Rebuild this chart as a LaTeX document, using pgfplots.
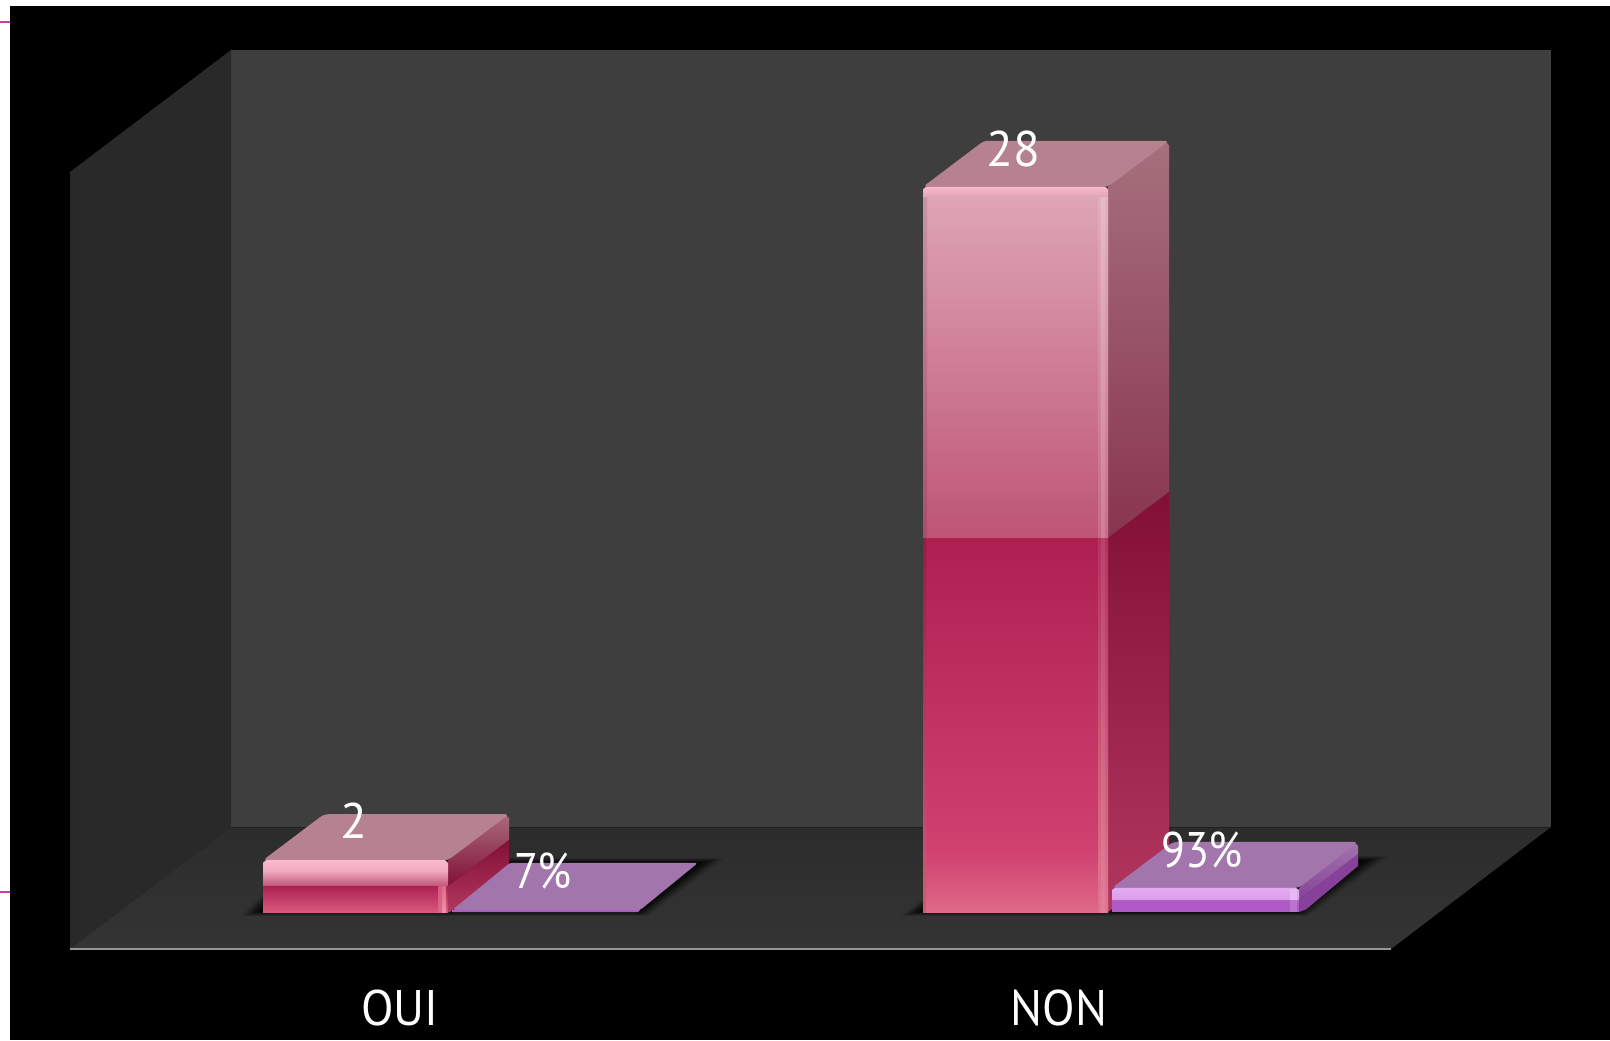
\documentclass[border=0pt]{standalone}
\usepackage{fontspec}
\setmainfont{PT Sans}
\usepackage{pgfplots}
\pgfplotsset{compat=1.18}
\definecolor{backwall}{RGB}{62,62,62}
\definecolor{leftwall}{RGB}{41,41,41}
\definecolor{floorA}{RGB}{44,44,44}
\definecolor{floorB}{RGB}{52,52,52}
\definecolor{axisgray}{RGB}{150,150,150}
\definecolor{tickmag}{RGB}{200,60,170}
\definecolor{rosetop}{RGB}{182,130,143}
\definecolor{paleA}{RGB}{222,165,180}
\definecolor{paleB}{RGB}{190,85,118}
\definecolor{paleHi}{RGB}{250,185,205}
\definecolor{deepA}{RGB}{174,32,82}
\definecolor{deepB}{RGB}{208,65,112}
\definecolor{deepC}{RGB}{222,105,135}
\definecolor{sideA}{RGB}{166,112,125}
\definecolor{sideB}{RGB}{137,53,80}
\definecolor{sideC}{RGB}{130,15,55}
\definecolor{sideD}{RGB}{178,55,95}
\definecolor{lilactop}{RGB}{162,117,172}
\definecolor{lilacHi}{RGB}{228,170,242}
\definecolor{lilacFront}{RGB}{175,90,198}
\definecolor{lilacSide}{RGB}{135,65,155}
\newcommand\face[2]{\addplot[draw=none,#1] coordinates {#2} --cycle;}
\begin{document}
\begin{tikzpicture}
\begin{axis}[
  width=805pt,height=520pt,scale only axis,
  xmin=0,xmax=1610,ymin=-4.942,ymax=35.212,
  enlargelimits=false,clip=true,axis on top,
  axis line style={draw=none},
  tick style={draw=none},major tick length=0pt,
  ytick=\empty,
  xtick={400,1059},xticklabels={OUI,NON},
  xticklabel style={anchor=base,yshift=7.5pt,text=white,font=\fontsize{25}{25}\selectfont,xscale=.95},
]
% page ground
\face{fill=white}{(0,-4.942)(1610,-4.942)(1610,35.212)(0,35.212)}
\face{fill=black}{(10,-4.942)(1610,-4.942)(1610,34.981)(10,34.981)}
\addplot[tickmag,line width=1.2pt] coordinates {(0,34.363)(10,34.363)};
\addplot[tickmag,line width=1.2pt] coordinates {(0,0.772)(10,0.772)};
% walls and floor
\face{fill=backwall}{(231,3.282)(1551,3.282)(1551,33.282)(231,33.282)}
\face{fill=leftwall}{(70,-1.429)(231,3.282)(231,33.282)(70,28.571)}
\face{top color=floorA,bottom color=floorB}{(70,-1.429)(1391,-1.429)(1551,3.282)(231,3.282)}
\addplot[axisgray,line width=1pt] coordinates {(70,-1.429)(1391,-1.429)};
\addplot[black,opacity=.25,line width=.4pt] coordinates {(231,3.282)(1551,3.282)};
% soft shadows, OUI
\face{fill=black,fill opacity=.12}{(241,-0.154)(648,-0.154)(724,2.085)(300,2.085)}
\face{fill=black,fill opacity=.18}{(245,-0.116)(646,-0.116)(719,2.046)(300,2.046)}
\face{fill=black,fill opacity=.25}{(249,-0.077)(644,-0.077)(714,2.008)(300,2.008)}
\face{fill=black,fill opacity=.35}{(253,-0.039)(642,-0.039)(709,1.969)(300,1.969)}
\face{fill=black,fill opacity=.45}{(258,-0.01)(640,-0.01)(704,1.931)(300,1.931)}
% soft shadows, NON
\face{fill=black,fill opacity=.12}{(901,-0.154)(1308,-0.154)(1388,2.162)(980,2.162)}
\face{fill=black,fill opacity=.18}{(905,-0.116)(1306,-0.116)(1383,2.124)(980,2.124)}
\face{fill=black,fill opacity=.25}{(909,-0.077)(1304,-0.077)(1378,2.085)(980,2.085)}
\face{fill=black,fill opacity=.35}{(913,-0.039)(1302,-0.039)(1373,2.046)(980,2.046)}
\face{fill=black,fill opacity=.45}{(918,-0.01)(1300,-0.01)(1367,2.008)(980,2.008)}
% OUI, count = 2
\face{top color=rosetop!70!sideB,bottom color=sideC}{(448,2)(505,3.776)(509,3.62)(509,2.78)(448,1.004)}
\face{top color=sideC,bottom color=sideD}{(448,1.004)(509,2.78)(509,1.776)(450,0)(448,0)}
\face{fill=rosetop,rounded corners=2pt}{(263,2)(448,2)(509,3.776)(324,3.776)}
\face{top color=paleHi,bottom color=paleHi!85!paleB}{(263,1.6)(448,1.6)(448,1.9)(445,2)(266,2)(263,1.9)}
\face{top color=paleHi!85!paleB,bottom color=paleB}{(263,1.004)(448,1.004)(448,1.6)(263,1.6)}
\face{top color=deepA,bottom color=deepC!60!deepB}{(263,0)(448,0)(448,1.004)(263,1.004)}
\face{top color=deepC!60!deepB,bottom color=deepC}{(438,0)(442,0)(442,1.004)(438,1.004)}
\face{top color=deepC,bottom color=deepC!70!white}{(442,0)(446,0)(446,1.004)(442,1.004)}
% OUI, share = 0.07
\face{fill=lilacFront}{(452,0)(638,0)(640,0.07)(452,0.07)}
\face{fill=lilactop,rounded corners=1.5pt}{(452,0.07)(640,0.07)(698,1.9)(510,1.9)}
% NON, count = 28
\face{top color=sideA,bottom color=sideB}{(1108,14.44)(1169,16.216)(1169,29.6)(1165,29.776)(1108,28)}
\face{top color=sideC,bottom color=sideD}{(1108,0)(1169,1.776)(1169,16.216)(1108,14.44)}
\face{fill=rosetop,rounded corners=2pt}{(923,28)(1108,28)(1169,29.776)(984,29.776)}
\face{top color=paleHi,bottom color=paleA}{(923,27.6)(1108,27.6)(1108,27.9)(1105,28)(926,28)(923,27.9)}
\face{top color=paleA,bottom color=paleB}{(923,14.44)(1108,14.44)(1108,27.6)(923,27.6)}
\face{top color=deepA,bottom color=deepB}{(923,2.39)(1108,2.39)(1108,14.44)(923,14.44)}
\face{top color=deepB,bottom color=deepC}{(923,0)(1108,0)(1108,2.39)(923,2.39)}
% soft edges of the front face, NON
\face{top color=paleA!90!black,bottom color=paleB!90!black}{(923,14.44)(927,14.44)(927,27.6)(923,27.6)}
\face{top color=deepA!85!black,bottom color=deepC!90!black}{(923,0)(926,0)(926,14.44)(923,14.44)}
\face{top color=paleA!88!white,bottom color=paleB!88!white}{(1098,14.44)(1101,14.44)(1101,27.6)(1098,27.6)}
\face{top color=paleA!75!white,bottom color=paleB!75!white}{(1101,14.44)(1105,14.44)(1105,27.6)(1101,27.6)}
\face{top color=paleA!85!white,bottom color=paleB!85!white}{(1105,14.44)(1108,14.44)(1108,27.6)(1105,27.6)}
\face{top color=deepA!92!white,bottom color=deepC!92!white}{(1098,0)(1101,0)(1101,14.44)(1098,14.44)}
\face{top color=deepA!85!white,bottom color=deepC!85!white}{(1101,0)(1105,0)(1105,14.44)(1101,14.44)}
\face{top color=deepA!92!white,bottom color=deepC!92!white}{(1105,0)(1108,0)(1108,14.44)(1105,14.44)}
% NON, share = 0.93
\face{fill=lilacSide}{(1299,0)(1306,0.1)(1358,1.776)(1358,2.24)(1299,0.463)}
\face{top color=lilactop,bottom color=lilacSide}{(1299,0.463)(1358,2.24)(1358,2.55)(1354,2.706)(1299,0.93)}
\face{fill=lilactop,rounded corners=2pt}{(1112,0.93)(1299,0.93)(1358,2.706)(1173,2.706)}
\face{fill=lilacFront}{(1112,0)(1299,0)(1299,0.463)(1112,0.463)}
\face{top color=lilacHi,bottom color=lilacHi!85!lilacFront}{(1112,0.463)(1299,0.463)(1299,0.85)(1296,0.93)(1115,0.93)(1112,0.85)}
\face{fill=lilacFront!85!white}{(1290,0)(1297,0)(1297,0.463)(1290,0.463)}
\face{fill=lilacHi!85!white}{(1290,0.463)(1297,0.463)(1297,0.9)(1290,0.9)}
% value labels
\begin{scope}[every node/.style={anchor=base,text=white,font=\fontsize{25}{25}\selectfont,xscale=.88,inner sep=0pt}]
\node[xscale=1.12] at (axis cs:354,2.82) {2};
\node at (axis cs:543,0.9) {7\%};
\node[xscale=1.12] at (axis cs:1013,28.8) {28};
\node at (axis cs:1202,1.72) {93\%};
\end{scope}
\end{axis}
\end{tikzpicture}
\end{document}
